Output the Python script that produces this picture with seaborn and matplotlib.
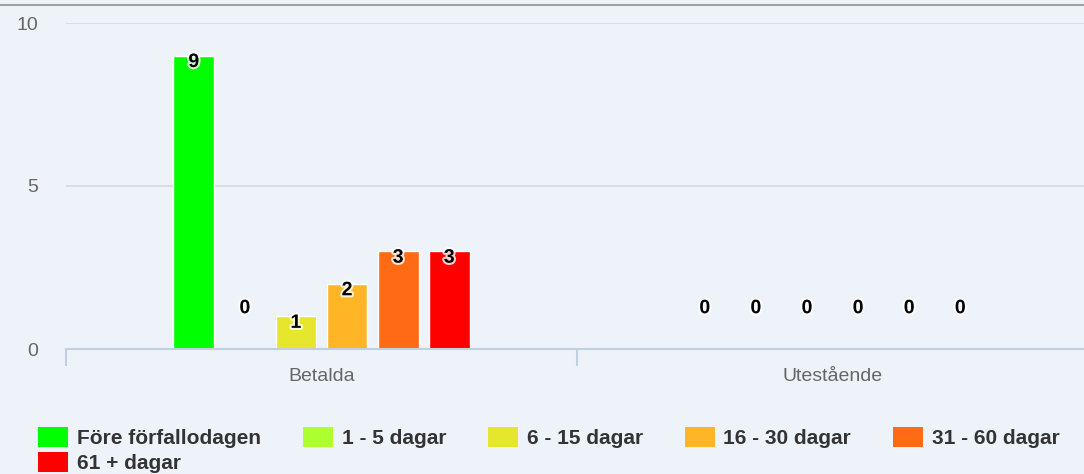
import pandas as pd
import matplotlib.pyplot as plt
import matplotlib.patheffects as pe
import seaborn as sns

# Data
categories = ['Betalda', 'Utestående']
intervals = ['Före förfallodagen', '1 - 5 dagar', '6 - 15 dagar',
             '16 - 30 dagar', '31 - 60 dagar', '61 + dagar']
betalda = [9, 0, 1, 2, 3, 3]
utestaende = [0, 0, 0, 0, 0, 0]
colors = ['#00ff00', '#adff2f', '#e6e62e', '#ffb526', '#ff6b14', '#ff0000']

# long format table for seaborn
rows = []
for i, name in enumerate(intervals):
    rows.append({'kategori': categories[0], 'intervall': name, 'antal': betalda[i]})
    rows.append({'kategori': categories[1], 'intervall': name, 'antal': utestaende[i]})
df = pd.DataFrame(rows)

bg = '#eef3fa'
sns.set_style('white')
plt.rcParams['font.family'] = ['Liberation Sans', 'DejaVu Sans']

fig = plt.figure(figsize=(10.84, 4.74), dpi=100, facecolor=bg)
ax = fig.add_axes([66 / 1084, 125 / 474, 1022 / 1084, 326 / 474])
ax.set_facecolor(bg)

sns.barplot(data=df, x='kategori', y='antal', hue='intervall', order=categories,
            hue_order=intervals, palette=colors, width=0.6, gap=0.2,
            edgecolor='white', linewidth=1, saturation=1, errorbar=None, ax=ax)

# remember legend entries, then drop seaborn's legend
handles, labels = ax.get_legend_handles_labels()
if ax.get_legend() is not None:
    ax.get_legend().remove()

# value labels
for cont in ax.containers:
    for bar in cont:
        h = bar.get_height()
        x = bar.get_x() + bar.get_width() / 2
        if h == 0:
            bar.set_visible(False)
            off = 29
        else:
            off = -5
        ax.annotate(f'{int(h)}', (x, h), xytext=(0, off), textcoords='offset points',
                    ha='center', va='center', fontsize=14, fontweight='bold', color='black',
                    path_effects=[pe.withStroke(linewidth=3, foreground='white', alpha=0.8)],
                    annotation_clip=False)

# axes styling
ax.set_xlim(-0.5, 1.5)
ax.set_ylim(0, 10)
ax.set_yticks([0, 5, 10])
ax.yaxis.grid(True, color='#d8d8d8', linewidth=1.2)
ax.set_axisbelow(True)
for s in ['left', 'right', 'top']:
    ax.spines[s].set_visible(False)
ax.spines['bottom'].set_color('#c0d0e0')
ax.spines['bottom'].set_linewidth(1.5)
ax.spines['bottom'].set_zorder(5)
ax.tick_params(axis='y', length=0, pad=20, labelsize=14, labelcolor='#666666')
ax.tick_params(axis='x', which='major', length=0, pad=14, labelsize=14, labelcolor='#666666')
ax.set_xticks([-0.5, 0.5, 1.5], minor=True)
ax.tick_params(axis='x', which='minor', bottom=True, length=12, width=1.5,
               color='#c0d0e0', direction='out')
ax.set_xlabel('')
ax.set_ylabel('')

# legend at the bottom, filled row by row like the reference
order = [0, 5, 1, 2, 3, 4]
leg = fig.legend([handles[i] for i in order], [labels[i] for i in order],
                 loc='upper left', bbox_to_anchor=(38 / 1084, 1 - 427 / 474),
                 ncol=5, frameon=False, borderpad=0, borderaxespad=0,
                 prop={'size': 15, 'weight': 'bold'}, labelcolor='#333333',
                 handlelength=1.44, handleheight=1.1, handletextpad=0.43,
                 columnspacing=2.0, labelspacing=0.2)
for p in leg.get_patches():
    p.set_edgecolor('none')

# thin grey frame line at the top
fig.add_artist(plt.Line2D([0, 1], [1 - 4.5 / 474, 1 - 4.5 / 474], color='#a0a0a0', linewidth=1.5))

fig.savefig('out.png', dpi=100, facecolor=bg)
